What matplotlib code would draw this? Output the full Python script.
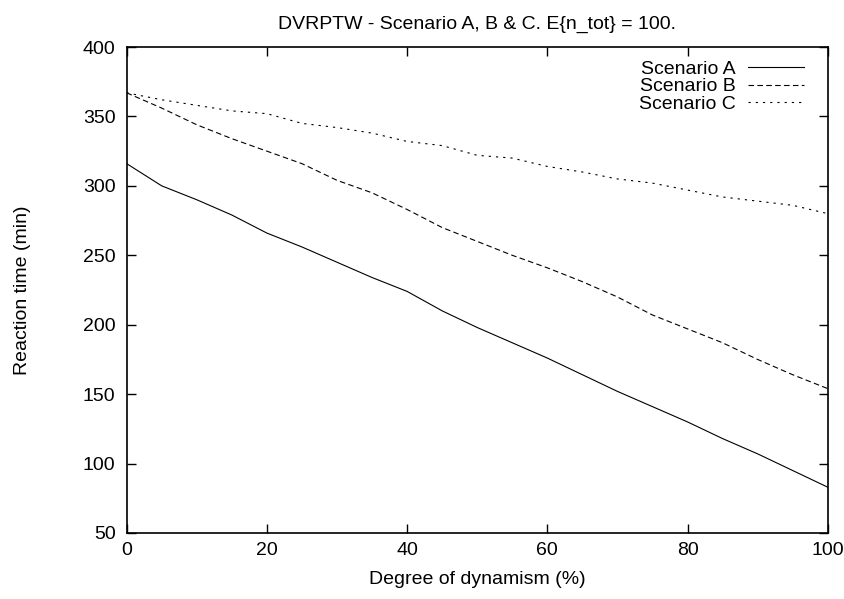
import matplotlib
matplotlib.use("Agg")
import matplotlib.pyplot as plt

plt.rcParams["font.family"] = ["Liberation Sans", "DejaVu Sans"]

# degree of dynamism (%)
dynamism = [0, 5, 10, 15, 20, 25, 30, 35, 40, 45, 50,
            55, 60, 65, 70, 75, 80, 85, 90, 95, 100]

scenario_a = [316, 300, 290, 279, 266, 256, 245, 234, 224, 210, 198,
              187, 176, 164, 152, 141, 130, 118, 107, 95, 83]
scenario_b = [367, 356, 344, 334, 325, 316, 304, 295, 283, 270, 260,
              250, 241, 231, 220, 207, 197, 187, 175, 164, 154]
scenario_c = [367, 362, 358, 354, 352, 345, 342, 338, 332, 329, 322,
              320, 314, 310, 305, 302, 297, 292, 289, 286, 280]

fs = 14

fig = plt.figure(figsize=(8.44, 5.99), dpi=100)
ax = fig.add_axes([0.1501, 0.1102, 0.8306, 0.8113])

lw = 0.8
ax.plot(dynamism, scenario_a, color="black", lw=lw, label="Scenario A")
ax.plot(dynamism, scenario_b, color="black", lw=lw, dashes=(5, 3),
        label="Scenario B")
ax.plot(dynamism, scenario_c, color="black", lw=lw, dashes=(2, 4.5),
        label="Scenario C")

ax.set_xlim(0, 100)
ax.set_ylim(50, 400)
ax.set_xticks(range(0, 101, 20))
ax.set_yticks(range(50, 401, 50))
ax.tick_params(direction="in", top=True, right=True, length=6.5, width=1,
               labelsize=fs)
ax.tick_params(axis="x", pad=6.5)
ax.tick_params(axis="y", pad=8)
for s in ax.spines.values():
    s.set_linewidth(1.2)

ax.set_title("DVRPTW - Scenario A, B & C. E{n_tot} = 100.", fontsize=fs,
             pad=13)
ax.set_xlabel("Degree of dynamism (%)", fontsize=fs)
ax.set_ylabel("Reaction time (min)", fontsize=fs)
ax.xaxis.set_label_coords(0.5, -0.078)
ax.yaxis.set_label_coords(-0.137, 0.5)

leg = ax.legend(loc="upper right", frameon=False, markerfirst=False,
                fontsize=fs, handlelength=2.85, handletextpad=0.67,
                labelspacing=0.0, borderaxespad=0, borderpad=0,
                bbox_to_anchor=(0.966, 0.973))
for t in leg.get_texts():
    t.set_ha("right")

fig.savefig("out.png", dpi=100)
